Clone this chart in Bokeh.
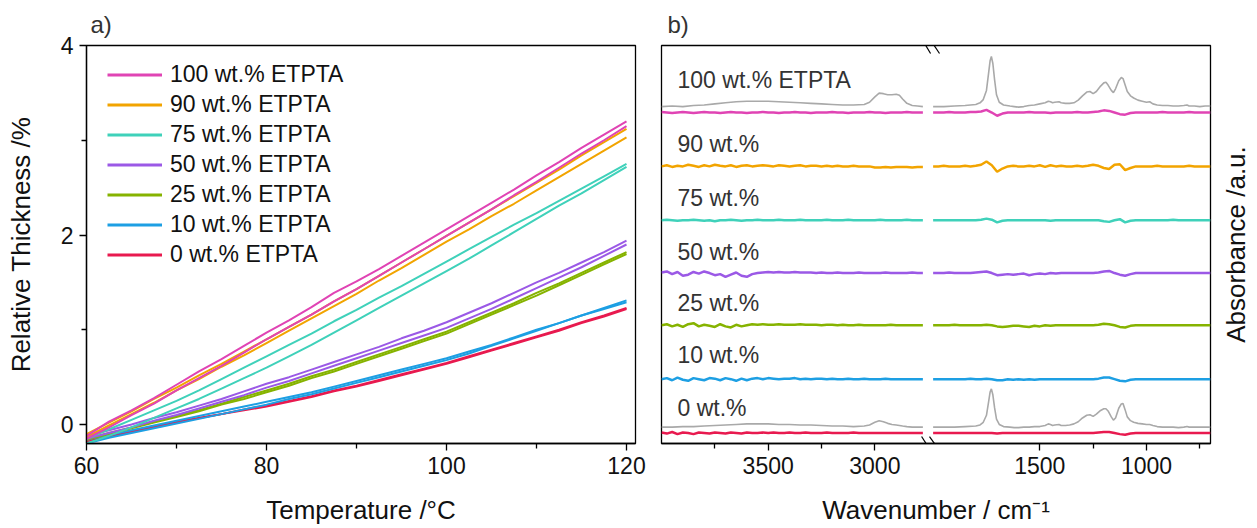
import math
from bokeh.plotting import figure
from bokeh.models import Range1d, FixedTicker, Legend, LegendItem, Arrow
from bokeh.layouts import row
from bokeh.embed import file_html
from bokeh.resources import INLINE
from bokeh.core.properties import value

FONT = "Liberation Sans"

# ---------------- panel a data ----------------
temperature = [60, 62.5, 65, 67.5, 70, 72.5, 75, 77.5, 80, 82.5, 85, 87.5, 90, 92.5,
               95, 97.5, 100, 102.5, 105, 107.5, 110, 112.5, 115, 117.5, 120]
series_labels = ["100 wt.% ETPTA", "90 wt.% ETPTA", "75 wt.% ETPTA", "50 wt.% ETPTA",
                 "25 wt.% ETPTA", "10 wt.% ETPTA", "0 wt.% ETPTA"]
colors = ["#E044B4", "#F2A400", "#3FD1BA", "#9B59E6", "#86B300", "#1D9FE3", "#E81A4F"]

thick_100_a = [-0.12, 0.03, 0.15, 0.28, 0.42, 0.56, 0.69, 0.83, 0.97, 1.10, 1.24, 1.39, 1.51,
               1.64, 1.78, 1.92, 2.06, 2.20, 2.34, 2.48, 2.63, 2.77, 2.92, 3.06, 3.20]
thick_100_b = [-0.15, -0.03, 0.10, 0.22, 0.36, 0.49, 0.62, 0.76, 0.90, 1.03, 1.16, 1.30, 1.43,
               1.57, 1.71, 1.85, 1.99, 2.13, 2.27, 2.42, 2.56, 2.71, 2.86, 3.00, 3.15]
thick_90_a = [-0.10, 0.02, 0.14, 0.27, 0.39, 0.52, 0.64, 0.77, 0.90, 1.03, 1.16, 1.30, 1.43,
              1.57, 1.71, 1.85, 1.99, 2.13, 2.27, 2.41, 2.55, 2.69, 2.84, 2.98, 3.12]
thick_90_b = [-0.13, -0.01, 0.11, 0.23, 0.36, 0.48, 0.61, 0.73, 0.86, 0.99, 1.12, 1.25, 1.38,
              1.52, 1.65, 1.79, 1.93, 2.06, 2.20, 2.33, 2.47, 2.61, 2.75, 2.89, 3.03]
thick_75_a = [-0.15, -0.05, 0.05, 0.15, 0.25, 0.36, 0.48, 0.60, 0.72, 0.84, 0.96, 1.09, 1.21,
              1.34, 1.46, 1.59, 1.72, 1.85, 1.98, 2.11, 2.23, 2.36, 2.49, 2.62, 2.75]
thick_75_b = [-0.20, -0.12, -0.03, 0.07, 0.17, 0.27, 0.38, 0.49, 0.60, 0.72, 0.84, 0.97, 1.10,
              1.23, 1.36, 1.49, 1.62, 1.75, 1.89, 2.03, 2.17, 2.31, 2.44, 2.58, 2.72]
thick_50_a = [-0.12, -0.06, 0.00, 0.07, 0.13, 0.20, 0.27, 0.35, 0.43, 0.50, 0.58, 0.66, 0.74,
              0.82, 0.91, 0.99, 1.08, 1.18, 1.28, 1.39, 1.50, 1.60, 1.71, 1.82, 1.94]
thick_50_b = [-0.15, -0.09, -0.03, 0.04, 0.10, 0.17, 0.24, 0.31, 0.39, 0.46, 0.54, 0.62, 0.70,
              0.78, 0.86, 0.94, 1.02, 1.12, 1.22, 1.33, 1.44, 1.55, 1.66, 1.78, 1.90]
thick_25_a = [-0.15, -0.09, -0.03, 0.03, 0.09, 0.15, 0.22, 0.29, 0.36, 0.43, 0.51, 0.58, 0.66,
              0.74, 0.82, 0.90, 0.98, 1.08, 1.18, 1.28, 1.39, 1.49, 1.60, 1.71, 1.82]
thick_25_b = [-0.16, -0.10, -0.04, 0.02, 0.08, 0.14, 0.21, 0.27, 0.34, 0.41, 0.49, 0.56, 0.64,
              0.72, 0.80, 0.88, 0.96, 1.06, 1.16, 1.26, 1.36, 1.47, 1.58, 1.69, 1.80]
thick_10_a = [-0.20, -0.14, -0.09, -0.04, 0.01, 0.06, 0.11, 0.16, 0.21, 0.27, 0.32, 0.38, 0.44,
              0.50, 0.56, 0.62, 0.68, 0.75, 0.83, 0.91, 0.99, 1.07, 1.15, 1.23, 1.31]
thick_10_b = [-0.16, -0.11, -0.06, -0.01, 0.04, 0.09, 0.14, 0.19, 0.24, 0.29, 0.34, 0.40, 0.46,
              0.52, 0.58, 0.64, 0.70, 0.77, 0.84, 0.92, 1.00, 1.07, 1.15, 1.22, 1.29]
thick_0_a = [-0.18, -0.13, -0.08, -0.03, 0.02, 0.07, 0.11, 0.16, 0.20, 0.25, 0.30, 0.36, 0.41,
             0.47, 0.53, 0.59, 0.65, 0.72, 0.79, 0.86, 0.93, 1.00, 1.08, 1.15, 1.23]
thick_0_b = [-0.17, -0.12, -0.07, -0.02, 0.03, 0.07, 0.11, 0.15, 0.19, 0.24, 0.29, 0.35, 0.40,
             0.46, 0.52, 0.58, 0.64, 0.71, 0.78, 0.85, 0.92, 0.99, 1.07, 1.14, 1.22]

thickness = [(thick_100_a, thick_100_b), (thick_90_a, thick_90_b), (thick_75_a, thick_75_b),
             (thick_50_a, thick_50_b), (thick_25_a, thick_25_b), (thick_10_a, thick_10_b),
             (thick_0_a, thick_0_b)]

x_ticks_a = [60, 80, 100, 120]
x_minor_a = [70, 90, 110]
y_ticks_a = [0, 2, 4]
y_minor_a = [1, 3]

# ---------------- panel b data ----------------
wn_left = [4000, 3975, 3950, 3925, 3900, 3875, 3850, 3825, 3800, 3775, 3750, 3725, 3700, 3675,
           3650, 3625, 3600, 3575, 3550, 3525, 3500, 3475, 3450, 3425, 3400, 3375, 3350, 3325,
           3300, 3275, 3250, 3225, 3200, 3175, 3150, 3125, 3100, 3075, 3050, 3025, 3000, 2975,
           2950, 2925, 2900, 2875, 2850, 2825, 2800, 2775]
wn_right = [2000, 1975, 1950, 1925, 1900, 1875, 1850, 1825, 1800, 1775, 1750, 1725, 1700, 1675,
            1650, 1625, 1600, 1575, 1550, 1525, 1500, 1475, 1450, 1425, 1400, 1375, 1350, 1325,
            1300, 1275, 1250, 1225, 1200, 1175, 1150, 1125, 1100, 1075, 1050, 1025, 1000, 975,
            950, 925, 900, 875, 850, 825, 800, 775, 750, 725, 700]

ir_100_left = [0.01, 0.00, -0.01, 0.00, 0.01, 0.00, -0.01, 0.00, 0.01, 0.00,
               0.00, -0.01, 0.00, 0.01, 0.00, 0.00, -0.01, 0.00, 0.00, 0.01,
               0.00, 0.00, -0.01, 0.00, 0.00, 0.01, 0.00, 0.00, -0.01, 0.00,
               0.00, 0.00, 0.01, 0.00, 0.00, -0.01, 0.00, 0.00, 0.00, 0.01,
               0.00, 0.00, -0.01, 0.00, 0.00, 0.00, 0.01, 0.00, 0.00, 0.00]
ir_90_left = [0.00, 0.02, -0.01, 0.01, 0.00, 0.03, 0.01, -0.01, 0.02, 0.00,
              0.03, 0.01, 0.00, 0.02, -0.01, 0.01, 0.02, 0.00, 0.01, 0.02,
              0.01, 0.00, 0.02, 0.01, 0.00, 0.01, 0.02, 0.00, 0.01, 0.01,
              0.00, 0.01, 0.00, 0.01, 0.00, 0.00, 0.01, 0.00, 0.00, 0.00,
              -0.02, -0.02, -0.01, -0.02, -0.01, -0.01, -0.01, -0.02, -0.01, -0.01]
ir_75_left = [0.00, 0.01, 0.00, -0.01, 0.00, 0.00, 0.01, 0.00, -0.01, 0.00,
              -0.02, 0.00, 0.00, 0.01, 0.00, -0.01, 0.00, 0.00, 0.01, 0.00,
              0.00, 0.00, 0.01, 0.00, 0.00, 0.00, 0.01, 0.00, 0.00, 0.00,
              0.00, 0.01, 0.00, 0.00, 0.00, 0.01, 0.00, 0.00, 0.00, 0.00,
              0.00, 0.01, 0.00, 0.00, 0.00, 0.00, 0.01, 0.00, 0.00, 0.00]
ir_50_left = [0.01, 0.03, -0.02, 0.02, -0.05, -0.03, 0.02, -0.01, 0.03, 0.00,
              -0.04, -0.02, -0.07, -0.03, 0.01, -0.05, -0.07, -0.02, 0.00, 0.01,
              0.02, 0.01, 0.02, 0.01, 0.01, 0.02, 0.01, 0.01, 0.01, 0.00,
              0.01, 0.00, 0.00, 0.01, 0.00, 0.00, 0.00, 0.01, 0.00, 0.00,
              0.00, 0.00, 0.01, 0.00, 0.00, 0.00, 0.00, 0.01, 0.00, 0.00]
ir_25_left = [0.00, 0.02, -0.02, 0.01, -0.03, 0.02, 0.04, -0.02, 0.01, -0.01,
              -0.03, 0.02, -0.02, -0.04, 0.01, -0.02, 0.00, 0.02, 0.01, 0.02,
              0.01, 0.01, 0.02, 0.01, 0.01, 0.01, 0.02, 0.01, 0.01, 0.01,
              0.00, 0.01, 0.01, 0.00, 0.01, 0.00, 0.00, 0.01, 0.00, 0.00,
              0.00, 0.00, 0.00, 0.01, 0.00, 0.00, 0.00, 0.00, 0.00, 0.00]
ir_10_left = [0.00, 0.02, -0.02, 0.03, -0.01, -0.03, 0.02, 0.00, -0.02, 0.02,
              0.01, -0.02, 0.02, 0.00, -0.03, 0.01, -0.02, 0.01, 0.02, 0.00,
              0.02, 0.01, 0.00, 0.01, 0.01, 0.02, 0.00, 0.01, 0.00, 0.01,
              0.01, 0.00, 0.01, 0.00, 0.00, 0.01, 0.00, 0.00, 0.01, 0.00,
              0.00, 0.00, 0.01, 0.00, 0.00, 0.00, 0.00, 0.00, 0.00, 0.00]
ir_0_left = [0.01, -0.01, 0.02, -0.02, 0.01, 0.00, -0.02, 0.01, 0.00, -0.01,
             0.01, 0.00, -0.01, 0.01, 0.00, -0.01, 0.01, 0.00, 0.00, 0.01,
             0.00, 0.01, 0.00, 0.00, 0.01, 0.00, 0.00, 0.01, 0.00, 0.00,
             0.00, 0.01, 0.00, 0.00, 0.00, 0.00, 0.01, 0.00, 0.00, 0.00,
             0.00, 0.00, 0.00, 0.00, 0.00, 0.00, 0.00, 0.00, 0.00, 0.00]

ir_100_right = [0.00, 0.00, 0.00, 0.01, 0.00, 0.00, 0.00, 0.01, 0.01, 0.02,
                0.05, 0.00, -0.06, -0.02, 0.00, 0.00, 0.00, 0.00, 0.01, 0.00,
                0.00, 0.00, -0.01, 0.00, 0.00, 0.00, 0.00, 0.01, 0.00, 0.00,
                0.01, 0.02, 0.04, 0.03, 0.00, -0.03, -0.04, -0.01, 0.00, 0.00,
                0.00, 0.00, 0.00, 0.01, 0.00, 0.00, 0.00, 0.00, 0.01, 0.00,
                0.00, 0.00, 0.00]
ir_90_right = [0.00, 0.00, 0.01, 0.00, 0.00, 0.00, 0.01, 0.00, 0.01, 0.03,
               0.09, 0.02, -0.10, -0.04, 0.00, 0.01, 0.00, 0.00, 0.01, 0.00,
               0.02, -0.01, 0.02, 0.00, 0.01, 0.00, 0.00, 0.01, 0.00, 0.01,
               0.03, 0.01, -0.03, -0.05, 0.03, 0.04, -0.07, -0.03, 0.00, 0.00,
               0.00, 0.00, 0.01, 0.00, 0.00, 0.00, 0.00, 0.00, 0.01, 0.00,
               0.00, 0.00, 0.00]
ir_75_right = [0.00, 0.00, 0.00, 0.00, 0.00, 0.00, 0.00, 0.00, 0.00, 0.01,
               0.03, 0.01, -0.04, -0.01, 0.00, 0.00, 0.00, 0.00, 0.00, 0.00,
               0.00, 0.00, -0.01, 0.00, 0.00, 0.00, 0.00, 0.00, 0.00, 0.00,
               0.00, 0.00, -0.02, -0.03, 0.00, 0.02, -0.04, -0.01, 0.00, 0.00,
               0.00, 0.00, 0.00, 0.00, 0.00, 0.01, 0.00, 0.00, 0.00, 0.00,
               0.00, 0.00, 0.00]
ir_50_right = [0.00, 0.00, 0.00, 0.01, 0.00, 0.00, 0.00, 0.00, 0.01, 0.02,
               0.03, 0.00, -0.04, -0.03, -0.02, -0.03, -0.02, -0.01, -0.04, -0.02,
               -0.01, -0.02, 0.00, -0.01, 0.00, 0.00, 0.00, 0.00, 0.00, 0.00,
               0.00, 0.01, 0.03, 0.04, 0.00, -0.03, -0.05, -0.02, 0.00, 0.00,
               0.00, 0.00, 0.00, 0.00, 0.00, 0.00, 0.00, 0.00, 0.00, 0.00,
               0.00, 0.00, 0.00]
ir_25_right = [0.00, 0.00, 0.00, 0.00, 0.01, 0.00, 0.00, 0.00, 0.00, 0.00,
               0.01, 0.00, -0.02, -0.03, -0.02, -0.01, -0.01, -0.02, -0.03, -0.01,
               -0.02, 0.00, -0.01, 0.00, 0.00, 0.00, 0.00, 0.00, 0.00, 0.00,
               0.00, 0.01, 0.03, 0.02, 0.00, -0.03, -0.04, -0.01, 0.00, 0.00,
               0.00, 0.00, 0.00, 0.00, 0.00, 0.00, 0.00, 0.00, 0.00, 0.00,
               0.00, 0.00, 0.00]
ir_10_right = [0.00, 0.00, 0.00, 0.00, 0.00, 0.00, 0.00, 0.01, 0.00, 0.00,
               0.01, 0.00, -0.02, -0.02, 0.00, -0.01, 0.00, -0.01, 0.00, -0.01,
               0.00, 0.00, 0.00, 0.00, 0.00, 0.00, 0.00, 0.00, 0.00, 0.00,
               0.00, 0.01, 0.03, 0.03, 0.00, -0.03, -0.04, -0.01, 0.00, 0.00,
               0.00, 0.00, 0.00, 0.00, 0.00, 0.00, 0.00, 0.00, 0.00, 0.00,
               0.00, 0.00, 0.00]
ir_0_right = [0.00, 0.00, 0.00, 0.00, 0.00, 0.00, 0.00, 0.00, 0.00, 0.00,
              0.00, 0.00, -0.01, 0.00, 0.00, 0.00, 0.00, 0.00, 0.00, 0.00,
              0.00, 0.00, 0.00, 0.00, 0.00, 0.00, 0.00, 0.00, 0.00, 0.00,
              0.00, 0.01, 0.02, 0.02, 0.00, -0.02, -0.03, -0.01, 0.00, 0.00,
              0.00, 0.00, 0.00, 0.00, 0.00, 0.00, 0.00, 0.00, 0.00, 0.00,
              0.00, 0.00, 0.00]

ir_left = [ir_100_left, ir_90_left, ir_75_left, ir_50_left, ir_25_left, ir_10_left, ir_0_left]
ir_right = [ir_100_right, ir_90_right, ir_75_right, ir_50_right, ir_25_right, ir_10_right, ir_0_right]
ir_labels = ["100 wt.% ETPTA", "90 wt.%", "75 wt.%", "50 wt.%", "25 wt.%", "10 wt.%", "0 wt.%"]

# grey reference spectra (absorbance above their own baseline)
ref_wn_left = [4000, 3950, 3900, 3850, 3800, 3750, 3700, 3650, 3600, 3550, 3500, 3450, 3400,
               3350, 3300, 3250, 3200, 3150, 3100, 3050, 3025, 3000, 2980, 2960, 2940, 2920,
               2900, 2885, 2870, 2850, 2825, 2800, 2775]
ref_top_left = [0.00, 0.01, 0.00, 0.02, 0.03, 0.05, 0.07, 0.09, 0.10, 0.10, 0.10, 0.09, 0.08,
                0.07, 0.06, 0.05, 0.04, 0.03, 0.03, 0.04, 0.08, 0.18, 0.25, 0.24, 0.22, 0.22,
                0.23, 0.21, 0.14, 0.06, 0.02, 0.01, 0.00]
ref_bot_left = [0.00, 0.00, 0.01, 0.01, 0.02, 0.03, 0.04, 0.05, 0.06, 0.06, 0.06, 0.05, 0.05,
                0.04, 0.04, 0.03, 0.02, 0.02, 0.01, 0.02, 0.04, 0.09, 0.12, 0.10, 0.07, 0.05,
                0.04, 0.03, 0.02, 0.01, 0.00, 0.00, 0.00]
ref_wn_right = [2000, 1950, 1900, 1850, 1800, 1780, 1765, 1750, 1740, 1733, 1727, 1720, 1712,
                1703, 1690, 1670, 1640, 1620, 1600, 1575, 1550, 1525, 1500, 1475, 1460, 1450,
                1440, 1430, 1410, 1400, 1380, 1360, 1340, 1320, 1300, 1280, 1265, 1250, 1235,
                1215, 1200, 1190, 1180, 1165, 1155, 1145, 1130, 1118, 1110, 1100, 1090, 1075,
                1060, 1040, 1020, 1000, 985, 970, 950, 925, 900, 875, 850, 825, 810, 800, 775,
                750, 725, 700]
ref_top_right = [0.00, 0.00, 0.01, 0.02, 0.04, 0.07, 0.13, 0.30, 0.62, 0.85, 0.93, 0.80, 0.50,
                 0.22, 0.08, 0.03, 0.01, 0.00, -0.01, 0.00, 0.02, 0.03, 0.05, 0.07, 0.10, 0.09,
                 0.07, 0.08, 0.09, 0.07, 0.06, 0.06, 0.07, 0.12, 0.20, 0.27, 0.28, 0.24, 0.28,
                 0.38, 0.44, 0.45, 0.40, 0.30, 0.26, 0.33, 0.48, 0.54, 0.52, 0.40, 0.28, 0.20,
                 0.16, 0.12, 0.10, 0.08, 0.09, 0.05, 0.03, 0.02, 0.02, 0.01, 0.01, 0.02, 0.03,
                 0.01, 0.01, 0.00, 0.01, 0.01]
ref_bot_right = [0.00, 0.00, 0.00, 0.01, 0.02, 0.04, 0.09, 0.22, 0.47, 0.65, 0.71, 0.60, 0.36,
                 0.15, 0.05, 0.01, 0.00, -0.01, -0.01, 0.00, 0.00, 0.01, 0.01, 0.03, 0.06, 0.05,
                 0.03, 0.04, 0.05, 0.03, 0.03, 0.04, 0.06, 0.10, 0.17, 0.22, 0.23, 0.20, 0.24,
                 0.31, 0.34, 0.34, 0.30, 0.19, 0.13, 0.17, 0.35, 0.43, 0.44, 0.32, 0.19, 0.12,
                 0.09, 0.07, 0.06, 0.05, 0.05, 0.03, 0.01, 0.00, 0.00, 0.00, -0.01, 0.00, 0.01,
                 0.00, 0.00, 0.00, 0.00, 0.00]

x_major_b_left = [3500, 3000]
x_minor_b_left = [3750, 3250]
x_major_b_right = [1500, 1000]
x_minor_b_right = [1250, 750]

# ---------------- layout constants ----------------
OFFSETS = [5.95, 4.95, 3.95, 2.97, 2.0, 1.0, 0.0]
LABEL_DY = [0.61, 0.42, 0.41, 0.39, 0.42, 0.45, 0.47]
REF_BASE = [OFFSETS[0] + 0.11, OFFSETS[6] + 0.11]
GREY = "#A9A9A9"
TXT = "#333333"

# ================= panel a =================
pa = figure(width=648, height=528, x_range=Range1d(60, 121), y_range=Range1d(-0.2, 4),
            output_backend="svg", toolbar_location=None,
            min_border_left=86, min_border_right=13, min_border_top=44, min_border_bottom=85)
pa.grid.visible = False
pa.outline_line_color = "black"
pa.outline_line_width = 1.3
pa.background_fill_color = "white"
pa.border_fill_color = "white"

for i in reversed(range(len(thickness))):
    for curve in thickness[i]:
        pa.line(temperature, curve, line_color=colors[i], line_width=2)

items = []
for lab, col in zip(series_labels, colors):
    r = pa.line(x=[float("nan")], y=[float("nan")], line_color=col, line_width=3)
    items.append(LegendItem(label=lab, renderers=[r]))
leg = Legend(items=items, location=(21, 175), border_line_color=None,
             background_fill_alpha=0, padding=0, margin=0, spacing=3,
             glyph_width=55, glyph_height=27, label_height=27, label_standoff=8,
             label_text_font=FONT, label_text_font_size="23px", label_text_color="#111111")
pa.add_layout(leg)

for ax in (pa.xaxis[0], pa.yaxis[0]):
    ax.axis_line_color = "black"
    ax.axis_line_width = 1.3
    ax.major_tick_line_color = "black"
    ax.minor_tick_line_color = "black"
    ax.major_tick_line_width = 1.3
    ax.minor_tick_line_width = 1.3
    ax.major_tick_in = 0
    ax.major_tick_out = 7
    ax.minor_tick_in = 0
    ax.minor_tick_out = 5
    ax.major_label_text_font = FONT
    ax.major_label_text_font_size = "23px"
    ax.major_label_text_color = "#111111"
    ax.axis_label_text_font = FONT
    ax.axis_label_text_font_size = "26px"
    ax.axis_label_text_font_style = "normal"
    ax.axis_label_text_color = "#111111"
    ax.major_label_standoff = 6
pa.xaxis[0].ticker = FixedTicker(ticks=x_ticks_a, minor_ticks=x_minor_a)
pa.yaxis[0].ticker = FixedTicker(ticks=y_ticks_a, minor_ticks=y_minor_a)
pa.xaxis[0].axis_label = "Temperature /°C"
pa.yaxis[0].axis_label = "Relative Thickness /%"
pa.xaxis[0].axis_label_standoff = 18
pa.yaxis[0].axis_label_standoff = 22

pa.title.text = "a)"
pa.title.align = "left"
pa.title.offset = 4
pa.title.standoff = 16
pa.title.text_font = FONT
pa.title.text_font_size = "24px"
pa.title.text_font_style = "normal"
pa.title.text_color = TXT

# ================= panel b =================
L0, L1 = 4000, 1427     # left-segment scale over the full frame
R0, R1 = 3273, 700      # right-segment scale over the full frame
SHIFT = L0 - R0
Y0, Y1 = -0.194, 7.194

pb = figure(width=564, height=528, x_range=Range1d(L0, L1), y_range=Range1d(Y0, Y1),
            output_backend="svg", toolbar_location=None,
            min_border_left=13, min_border_right=2, min_border_top=44, min_border_bottom=85)
pb.extra_x_ranges = {"right": Range1d(R0, R1)}
pb.grid.visible = False
pb.outline_line_color = "black"
pb.outline_line_width = 1.3
pb.background_fill_color = "white"
pb.border_fill_color = "white"
pb.yaxis.visible = False

# grey reference spectra
for base, yl, yr in ((REF_BASE[0], ref_top_left, ref_top_right),
                     (REF_BASE[1], ref_bot_left, ref_bot_right)):
    pb.line(ref_wn_left, [base + v for v in yl], line_color=GREY, line_width=1.6)
    pb.line(ref_wn_right, [base + v for v in yr], line_color=GREY, line_width=1.6,
            x_range_name="right")

for i in range(len(ir_left)):
    pb.line(wn_left, [OFFSETS[i] + v for v in ir_left[i]], line_color=colors[i], line_width=2.5)
    pb.line(wn_right, [OFFSETS[i] + v for v in ir_right[i]], line_color=colors[i],
            line_width=2.5, x_range_name="right")

pb.text(x=[3925] * len(ir_labels), y=[o + d for o, d in zip(OFFSETS, LABEL_DY)], text=ir_labels,
        text_font=value(FONT), text_font_size="23px", text_color=TXT,
        text_align="left", text_baseline="middle")

xb = pb.xaxis[0]
xb.ticker = FixedTicker(ticks=x_major_b_left + [w + SHIFT for w in x_major_b_right],
                        minor_ticks=x_minor_b_left + [w + SHIFT for w in x_minor_b_right])
xb.major_label_overrides = {w + SHIFT: str(w) for w in x_major_b_right}
xb.axis_line_color = "black"
xb.axis_line_width = 1.3
xb.major_tick_line_color = "black"
xb.minor_tick_line_color = "black"
xb.major_tick_line_width = 1.3
xb.minor_tick_line_width = 1.3
xb.major_tick_in = 0
xb.major_tick_out = 7
xb.minor_tick_in = 0
xb.minor_tick_out = 5
xb.major_label_text_font = FONT
xb.major_label_text_font_size = "23px"
xb.major_label_text_color = "#111111"
xb.major_label_standoff = 6
xb.axis_label = "Wavenumber / cm\u207b\u00b9"
xb.axis_label_text_font = FONT
xb.axis_label_text_font_size = "26px"
xb.axis_label_text_font_style = "normal"
xb.axis_label_text_color = "#111111"
xb.axis_label_standoff = 18

# axis-break marks
for xs, xe in ((2781, 2739), (2744, 2697)):
    pb.add_layout(Arrow(x_start=xs, y_start=7.324, x_end=xe, y_end=7.046, end=None,
                        line_color="black", line_width=1.2))
    pb.add_layout(Arrow(x_start=xs, y_start=-0.065, x_end=xe, y_end=-0.324, end=None,
                        line_color="black", line_width=1.2))

pb.title.text = "b)"
pb.title.align = "left"
pb.title.offset = 6
pb.title.standoff = 16
pb.title.text_font = FONT
pb.title.text_font_size = "24px"
pb.title.text_font_style = "normal"
pb.title.text_color = TXT

# ============ strip carrying the right-hand axis title ============
pc = figure(width=45, height=528, x_range=Range1d(0, 1), y_range=Range1d(Y0, Y1),
            output_backend="svg", toolbar_location=None,
            min_border_left=44, min_border_right=0, min_border_top=44, min_border_bottom=85)
pc.grid.visible = False
pc.xaxis.visible = False
pc.outline_line_color = None
pc.background_fill_color = "white"
pc.border_fill_color = "white"
yc = pc.yaxis[0]
yc.ticker = FixedTicker(ticks=[])
yc.axis_line_color = None
yc.major_tick_out = 0
yc.major_tick_in = 0
yc.minor_tick_out = 0
yc.minor_tick_in = 0
yc.axis_label = "Absorbance /a.u."
yc.axis_label_text_font = FONT
yc.axis_label_text_font_size = "26px"
yc.axis_label_text_font_style = "normal"
yc.axis_label_text_color = "#111111"
yc.axis_label_standoff = 6

layout = row(pa, pb, pc)
open("out.html", "w").write(file_html(layout, INLINE))
